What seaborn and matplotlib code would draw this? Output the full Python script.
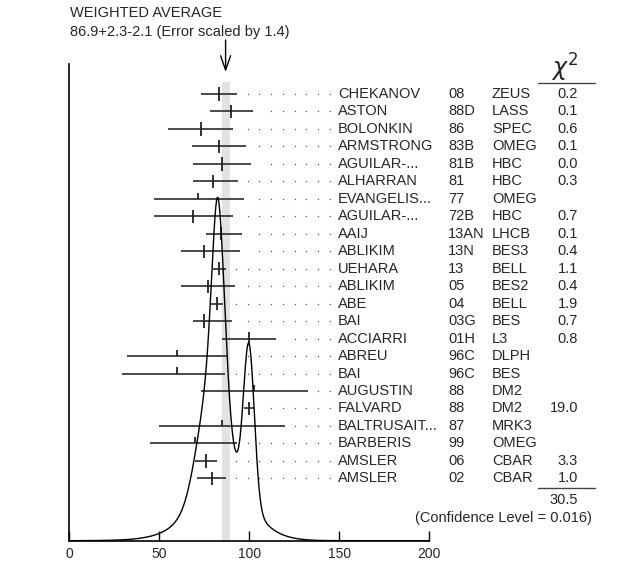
import numpy as np
import matplotlib
matplotlib.use('Agg')
import matplotlib.pyplot as plt
import seaborn as sns
from matplotlib import transforms
from matplotlib.lines import Line2D

# measurements, top to bottom
authors = ['CHEKANOV', 'ASTON', 'BOLONKIN', 'ARMSTRONG', 'AGUILAR-...', 'ALHARRAN',
           'EVANGELIS...', 'AGUILAR-...', 'AAIJ', 'ABLIKIM', 'UEHARA', 'ABLIKIM',
           'ABE', 'BAI', 'ACCIARRI', 'ABREU', 'BAI', 'AUGUSTIN', 'FALVARD',
           'BALTRUSAIT...', 'BARBERIS', 'AMSLER', 'AMSLER']
years = ['08', '88D', '86', '83B', '81B', '81', '77', '72B', '13AN', '13N', '13', '05',
         '04', '03G', '01H', '96C', '96C', '88', '88', '87', '99', '06', '02']
experiments = ['ZEUS', 'LASS', 'SPEC', 'OMEG', 'HBC', 'HBC', 'OMEG', 'HBC', 'LHCB', 'BES3',
               'BELL', 'BES2', 'BELL', 'BES', 'L3', 'DLPH', 'BES', 'DM2', 'DM2', 'MRK3',
               'OMEG', 'CBAR', 'CBAR']
values = [83.1, 90.1, 73.1, 83.1, 85.1, 79.7, 71.7, 69.0, 84.2, 75.1, 83.1, 76.9,
          82.0, 75.1, 99.9, 59.9, 59.9, 102.7, 99.9, 85.1, 69.9, 75.8, 79.2]
err_minus = [9.9, 12.0, 18.1, 15.0, 16.1, 10.7, 24.6, 21.9, 8.2, 13.0, 3.0, 14.8,
             3.8, 6.5, 14.8, 27.6, 30.4, 29.5, 3.0, 35.1, 25.0, 5.7, 8.0]
err_plus = [10.0, 11.9, 17.7, 15.0, 15.8, 14.3, 25.3, 21.8, 11.7, 19.8, 3.9, 15.1,
            3.6, 15.4, 15.0, 27.8, 26.5, 30.2, 3.0, 34.8, 23.2, 6.2, 7.8]
chi2_labels = ['0.2', '0.1', '0.6', '0.1', '0.0', '0.3', '', '0.7', '0.1', '0.4', '1.1', '0.4',
               '1.9', '0.7', '0.8', '', '', '', '19.0', '', '', '3.3', '1.0']

avg_value = 86.9
avg_err_plus = 2.3
avg_err_minus = 2.1
scale_factor = 1.4
chi2_total = '30.5'
conf_level = '0.016'

W, H = 637, 561
n = len(authors)


def ideogram(x, vals, lo, hi):
    # PDG style: one gaussian per measurement, area proportional to 1/error
    total = np.zeros_like(x)
    for v, l, h in zip(vals, lo, hi):
        s = 0.5 * (l + h)
        width = np.where(x < v, l, h)
        total += np.exp(-0.5 * ((x - v) / width) ** 2) / s ** 2
    return total


sns.set_theme(style='white')
plt.rcParams['font.family'] = ['Liberation Sans', 'DejaVu Sans']

fig = plt.figure(figsize=(W / 100, H / 100), dpi=100)
ax = fig.add_axes([69.3 / W, 20.3 / H, 359.7 / W, 476.4 / H])
ax.set_xlim(0, 200)
ax.set_ylim(0, 27.27)

ypos = np.arange(n)[::-1] + 3.57
vals = np.array(values)
lo = np.array(err_minus)
hi = np.array(err_plus)
used = np.array([c != '' for c in chi2_labels])

# weighted average band
ax.fill_betweenx([0, 26.27], avg_value - avg_err_minus, avg_value + avg_err_plus,
                 color='#e2e2e2', lw=0, zorder=0)

# ideogram
xs = np.linspace(0, 200, 2001)
curve = ideogram(xs, vals[used], lo[used], hi[used])
curve = curve / curve.max() * 19.66
sns.lineplot(x=xs, y=curve, color='black', lw=1.0, ax=ax, zorder=3)

# error bars
ax.hlines(ypos, vals - lo, vals + hi, color='#3a3a3a', lw=1.3, zorder=2)
ax.vlines(vals[used], ypos[used] - 0.38, ypos[used] + 0.38, color='#222222', lw=1.3, zorder=2)
ax.vlines(vals[~used], ypos[~used], ypos[~used] + 0.36, color='#222222', lw=1.3, zorder=2)

# dotted leaders
grid = 144.96 - 6.54 * np.arange(25)
for y, right in zip(ypos, vals + hi):
    g = grid[grid > right + 5.0]
    ax.scatter(g, np.full(len(g), y), s=1.0, color='#555555', lw=0, zorder=2)

sns.despine(ax=ax, top=True, right=True)
for side in ['left', 'bottom']:
    ax.spines[side].set_color('black')
    ax.spines[side].set_linewidth(1.2)
ax.set_xticks([0, 50, 100, 150, 200])
ax.set_yticks([])
ax.tick_params(axis='x', direction='in', length=7.2, width=1.0, color='black',
               labelsize=10, pad=4.5, bottom=True)
ax.set_xlabel('')

# table of measurements
trans = transforms.blended_transform_factory(fig.transFigure, ax.transData)
fs = 10.5
for i in range(n):
    y = ypos[i]
    ax.text(338 / W, y, authors[i], transform=trans, ha='left', va='center', fontsize=fs)
    ax.text(448 / W, y, years[i], transform=trans, ha='left', va='center', fontsize=fs)
    ax.text(492 / W, y, experiments[i], transform=trans, ha='left', va='center', fontsize=fs)
    if chi2_labels[i]:
        ax.text(578 / W, y, chi2_labels[i], transform=trans, ha='right', va='center', fontsize=fs)

fig.text(565 / W, 1 - 68 / H, r'$\chi^2$', ha='center', va='center', fontsize=17)
fig.add_artist(Line2D([538 / W, 595 / W], [1 - 83.3 / H] * 2, transform=fig.transFigure,
                      color='#444444', lw=1.0))
fig.add_artist(Line2D([538 / W, 595 / W], [1 - 487.7 / H] * 2, transform=fig.transFigure,
                      color='#444444', lw=1.0))
fig.text(578 / W, 1 - 500 / H, chi2_total, ha='right', va='center', fontsize=fs)
fig.text(592 / W, 1 - 518 / H, f'(Confidence Level = {conf_level})', ha='right', va='center',
         fontsize=fs)

# header
fig.text(70 / W, 1 - 13 / H, 'WEIGHTED AVERAGE', ha='left', va='center', fontsize=fs)
fig.text(70 / W, 1 - 31.7 / H,
         f'{avg_value}+{avg_err_plus}-{avg_err_minus} (Error scaled by {scale_factor})',
         ha='left', va='center', fontsize=fs)
ax.annotate('', xy=(avg_value, H - 72), xytext=(avg_value, H - 40),
            xycoords=('data', 'figure pixels'), textcoords=('data', 'figure pixels'),
            arrowprops=dict(arrowstyle='->,head_length=0.85,head_width=0.3', color='black',
                            lw=1.0, shrinkA=0, shrinkB=0),
            annotation_clip=False)

fig.savefig('out.png', dpi=100)
